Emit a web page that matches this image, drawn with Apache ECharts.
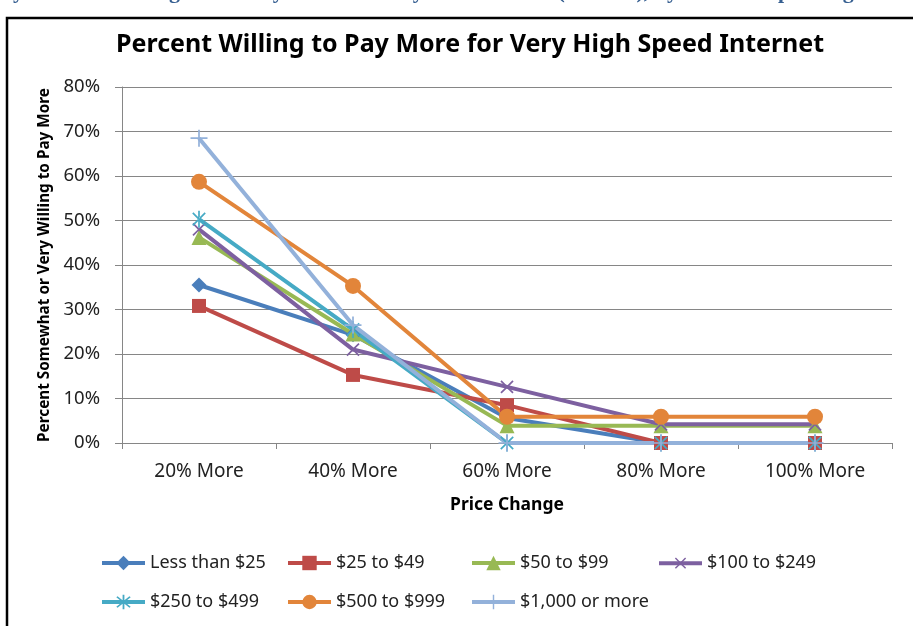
<!DOCTYPE html>
<html>
<head>
<meta charset="utf-8">
<title>Percent Willing to Pay More</title>
<script src="https://cdn.jsdelivr.net/npm/echarts@6/dist/echarts.min.js"></script>
<style>
  html, body { margin: 0; padding: 0; background: #fff; }
  #mychart { width: 913px; height: 626px; }
</style>
</head>
<body>
<div id="mychart"></div>
<script>
// categories along the x axis
var categories = ['20% More', '40% More', '60% More', '80% More', '100% More'];
var yTicks = [0, 10, 20, 30, 40, 50, 60, 70, 80];

// percent somewhat or very willing, by monthly spend group
var seriesNames = ['Less than $25', '$25 to $49', '$50 to $99', '$100 to $249',
                   '$250 to $499', '$500 to $999', '$1,000 or more'];
var lessThan25 = [35.5, 24.3, 5.6, 0, 0];
var from25to49 = [30.8, 15.3, 8.5, 0, 0];
var from50to99 = [46.2, 24.5, 3.9, 3.9, 3.9];
var from100to249 = [48.0, 21.0, 12.6, 4.2, 4.2];
var from250to499 = [50.3, 25.5, 0, 0, 0];
var from500to999 = [58.7, 35.3, 5.9, 5.9, 5.9];
var from1000up = [68.5, 26.5, 0, 0, 0];
var seriesData = [lessThan25, from25to49, from50to99, from100to249, from250to499, from500to999, from1000up];

var colors = ['#4A7EBB', '#BE4B48', '#98B954', '#7D60A0', '#46AAC5', '#E2853A', '#93B1DA'];

// marker shapes (thin strokes drawn as filled paths)
var plusPath = 'path://M-1,-10 L1,-10 L1,-1 L10,-1 L10,1 L1,1 L1,10 L-1,10 L-1,1 L-10,1 L-10,-1 L-1,-1 Z';
var starPath = 'path://M-1,-10 L1,-10 L1,10 L-1,10 Z M-8,-6.6 L-6.6,-8 L8,6.6 L6.6,8 Z M-8,6.6 L-6.6,8 L8,-6.6 L6.6,-8 Z';
var symbols = [
  { symbol: 'diamond', size: 15, rotate: 0 },
  { symbol: 'rect', size: 14, rotate: 0 },
  { symbol: 'triangle', size: 15, rotate: 0 },
  { symbol: plusPath, size: 17, rotate: 45 },
  { symbol: starPath, size: 17, rotate: 0 },
  { symbol: 'circle', size: 16, rotate: 0 },
  { symbol: plusPath, size: 17, rotate: 0 }
];

// the rotated X icon sits a little lower, so its legend is lifted
var legendPos = [[100, 554], [286, 554], [470, 554], [657, 553],
                 [100, 593], [286, 593], [470, 593]];

var font = '"Noto Sans", "DejaVu Sans", sans-serif';

var series = [];
var legends = [];
for (var i = 0; i < seriesNames.length; i++) {
  series.push({
    name: seriesNames[i],
    type: 'line',
    data: seriesData[i],
    symbol: symbols[i].symbol,
    symbolSize: symbols[i].size,
    symbolRotate: symbols[i].rotate,
    symbolKeepAspect: true,
    showAllSymbol: true,
    lineStyle: { width: 4, color: colors[i] },
    itemStyle: { color: colors[i], borderWidth: 0 },
    emphasis: { disabled: true }
  });
  legends.push({
    data: [seriesNames[i]],
    left: legendPos[i][0],
    top: legendPos[i][1],
    padding: 0,
    itemWidth: 43,
    itemHeight: 18,
    selectedMode: false,
    lineStyle: { width: 4 },
    textStyle: { fontFamily: font, fontSize: 18, color: '#222' }
  });
}

var myChart = echarts.init(document.getElementById('mychart'));
myChart.setOption({
  animation: false,
  backgroundColor: '#fff',
  color: colors,
  title: {
    text: 'Percent Willing to Pay More for Very High Speed Internet',
    left: 111,
    top: 27,
    textStyle: { fontFamily: font, fontSize: 25, fontWeight: 'bold', color: '#000' }
  },
  graphic: [
    { // frame of the chart box
      type: 'rect', z: -1,
      shape: { x: 7, y: 18, width: 1000, height: 1000 },
      style: { fill: 'none', stroke: '#000', lineWidth: 2.5 }
    },
    { // clipped heading above the chart
      type: 'text', left: -14, top: -19,
      style: {
        text: 'Key Results: Willingness to Pay More for Very Fast Internet (Percent), by Current Spending',
        fill: '#365F91', font: 'bold 22px "Liberation Serif", serif'
      }
    }
  ],
  legend: legends,
  grid: { left: 122, right: 21, top: 87, bottom: 183, containLabel: false },
  xAxis: {
    type: 'category',
    data: categories,
    boundaryGap: true,
    name: 'Price Change',
    nameLocation: 'middle',
    nameGap: 53,
    nameTextStyle: { fontFamily: font, fontSize: 17.5, fontWeight: 'bold', color: '#000' },
    axisLine: { lineStyle: { color: '#868686', width: 1 } },
    axisTick: { show: true, length: 6, lineStyle: { color: '#868686' } },
    axisLabel: { fontFamily: font, fontSize: 19, color: '#222', margin: 19 }
  },
  yAxis: {
    type: 'value',
    min: 0,
    max: 80,
    interval: 10,
    name: 'Percent Somewhat or Very Willing to Pay More',
    nameLocation: 'middle',
    nameGap: 64,
    nameTextStyle: { fontFamily: font, fontSize: 15.3, fontWeight: 'bold', color: '#000' },
    axisLine: { show: true, lineStyle: { color: '#868686', width: 1 } },
    axisTick: { show: true, length: 7, lineStyle: { color: '#868686' } },
    splitLine: { lineStyle: { color: '#868686', width: 1 } },
    axisLabel: {
      fontFamily: font, fontSize: 18.5, color: '#222', margin: 22,
      formatter: function (v) { return yTicks.indexOf(v) >= 0 ? v + '%' : ''; }
    }
  },
  series: series
});
</script>
</body>
</html>
